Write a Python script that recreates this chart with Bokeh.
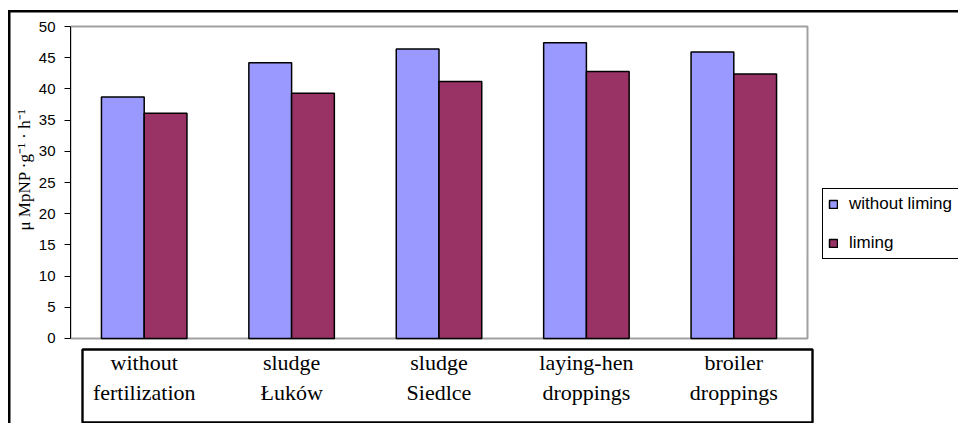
from bokeh.plotting import figure
from bokeh.models import (ColumnDataSource, Range1d, FixedTicker, Legend, LegendItem,
                          BoxAnnotation, Title)
from bokeh.transform import dodge
from bokeh.core.properties import value
from bokeh.embed import file_html
from bokeh.resources import INLINE

categories = ["without\nfertilization", "sludge\nŁuków", "sludge\nSiedlce",
              "laying-hen\ndroppings", "broiler\ndroppings"]
without_liming = [38.7, 44.2, 46.4, 47.4, 45.9]
liming = [36.1, 39.3, 41.2, 42.8, 42.4]
series_names = ["without liming", "liming"]
y_ticks = [0, 5, 10, 15, 20, 25, 30, 35, 40, 45, 50]
y_label = "μ MpNP ·g⁻¹ · h⁻¹"

xpos = [i + 0.5 for i in range(len(categories))]
source = ColumnDataSource(dict(x=xpos, cat=categories, a=without_liming, b=liming))

p = figure(width=958, height=423,
           x_range=Range1d(0, 6.0244), y_range=Range1d(-13.622, 54.167),
           x_axis_location=None,
           output_backend="svg", toolbar_location=None,
           min_border_left=70, min_border_right=0,
           min_border_top=0, min_border_bottom=0)
# outer chart frame (left and top edges) drawn behind the transparent canvas
p.styles = {"background": "linear-gradient(#000, #000) 8px 10px / 2.5px 100% no-repeat, "
                          "linear-gradient(#000, #000) 8px 10px / 100% 2.5px no-repeat, #fff"}

p.xgrid.visible = False
p.ygrid.visible = False
p.outline_line_color = None
p.background_fill_alpha = 0
p.border_fill_alpha = 0

# plot-area border (grey)
p.add_layout(BoxAnnotation(left=0, right=len(categories), bottom=0, top=50,
                           fill_alpha=0, line_color="#a0a0a0", line_width=2,
                           line_alpha=1, level="underlay"))

r1 = p.vbar(x=dodge("x", -0.145), top="a", width=0.29, source=source,
            fill_color="#9999ff", line_color="black", line_width=1.5)
r2 = p.vbar(x=dodge("x", 0.145), top="b", width=0.29, source=source,
            fill_color="#993366", line_color="black", line_width=1.5)

# box around category labels
p.add_layout(BoxAnnotation(left=0.0814, right=5.034, top=-1.763, bottom=-13.46,
                           fill_alpha=0, line_color="black", line_width=2.4, line_alpha=1))

p.text(x="x", y=-1.875, text="cat", source=source, text_align="center",
       text_baseline="top", text_font=value("Liberation Serif"),
       text_font_size="22px", text_color="black", text_line_height=1.2)

# y axis
p.yaxis.bounds = (0, 50)
p.yaxis.ticker = FixedTicker(ticks=y_ticks)
p.yaxis.axis_line_color = "black"
p.yaxis.axis_line_width = 1
p.yaxis.major_tick_line_color = "black"
p.yaxis.major_tick_out = 6
p.yaxis.major_tick_in = 0
p.yaxis.minor_tick_line_color = None
p.yaxis.major_label_standoff = 9
p.yaxis.major_label_text_font = "Liberation Sans"
p.yaxis.major_label_text_font_size = "15px"
p.yaxis.major_label_text_color = "black"

p.add_layout(Title(text=y_label, align="left", offset=193, standoff=3.5,
                   text_font="Liberation Serif", text_font_size="17px",
                   text_font_style="normal", text_color="black"), "left")

legend = Legend(items=[LegendItem(label=series_names[0], renderers=[r1]),
                       LegendItem(label=series_names[1], renderers=[r2])],
                location=(752, 164), orientation="vertical",
                border_line_color="black", border_line_width=1, border_line_alpha=1,
                label_text_font="Liberation Sans", label_text_font_size="17px",
                label_text_color="black",
                glyph_width=10, glyph_height=10, label_height=20, spacing=19,
                padding=5, margin=0, label_standoff=11, label_width=125,
                background_fill_color="white", background_fill_alpha=1)
p.add_layout(legend, "center")

open("out.html", "w").write(file_html(p, INLINE))
